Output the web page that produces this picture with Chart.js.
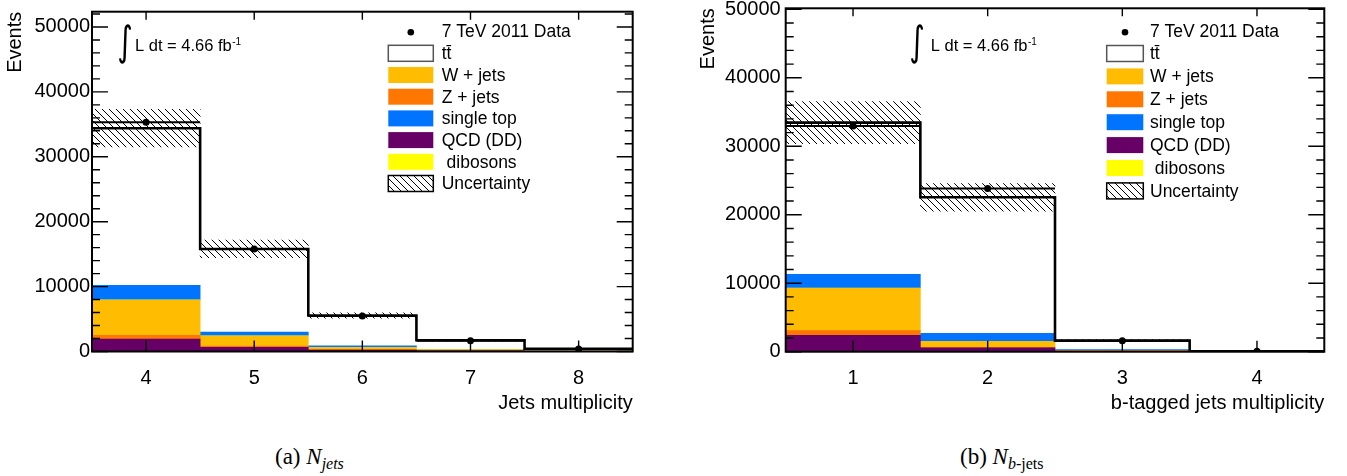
<!DOCTYPE html>
<html>
<head>
<meta charset="utf-8">
<script src="https://cdn.jsdelivr.net/npm/chart.js@4.4.0/dist/chart.umd.min.js"></script>
<style>
  html, body { margin: 0; padding: 0; background: #fff; }
  #wrap { position: relative; width: 1347px; height: 476px; overflow: hidden; }
  .panel { position: absolute; top: 0; height: 440px; }
  .caption { position: absolute; top: 444px; font-family: "Liberation Serif", "DejaVu Serif", serif; font-size: 23px; color: #000; white-space: nowrap; }
  .caption sub { font-size: 16px; vertical-align: -5px; }
</style>
</head>
<body>
<div id="wrap">
  <div class="panel" style="left:0;width:673px"><canvas id="chartJets"></canvas></div>
  <div class="panel" style="left:673px;width:674px"><canvas id="chartBJets"></canvas></div>
  <div class="caption" style="left:275px">(a) <i>N</i><sub><i>jets</i></sub></div>
  <div class="caption" style="left:960px">(b) <i>N</i><sub><i>b</i>-jets</sub></div>
</div>
<script>
// ---- data: jet multiplicity (4..8) ----
const jetBins = [4, 5, 6, 7, 8];
const jetData = [35300, 15800, 5450, 1650, 380];
const jetQcd = [1900, 650, 220, 90, 45];
const jetZjets = [600, 200, 70, 20, 5];
const jetWjets = [5400, 1530, 330, 140, 30];
const jetDiboson = [60, 20, 8, 3, 1];
const jetSingleTop = [2240, 600, 230, 30, 8];
const jetTtbar = [24200, 12800, 4690, 1440, 340];
const jetUncert = [2900, 1350, 420, 150, 40];

// ---- data: b-tagged jet multiplicity (1..4) ----
const bjetBins = [1, 2, 3, 4];
const bjetData = [32950, 23830, 1600, 50];
const bjetQcd = [2400, 560, 100, 5];
const bjetZjets = [670, 80, 20, 10];
const bjetWjets = [6180, 860, 80, 5];
const bjetDiboson = [50, 20, 5, 0];
const bjetSingleTop = [2000, 1170, 100, 3];
const bjetTtbar = [22150, 19860, 1315, 47];
const bjetUncert = [3075, 2015, 140, 10];

const yTickValues = [0, 10000, 20000, 30000, 40000, 50000];
const procLabels = ['tt\u0304', 'W + jets', 'Z + jets', 'single top', 'QCD (DD)', ' dibosons'];
const procColors = ['#ffffff', '#ffbc00', '#ff7700', '#0074ff', '#660066', '#ffff00'];
const dataLabel = '7 TeV 2011 Data';
const uncertLabel = 'Uncertainty';
const lumiText = 'L dt = 4.66 fb';

const FONT = '"Liberation Sans", Arial, Helvetica, sans-serif';

// hatch pattern for the uncertainty band
const hatch = (() => {
  const s = 7;
  const c = document.createElement('canvas');
  c.width = s; c.height = s;
  const g = c.getContext('2d');
  g.strokeStyle = '#000';
  g.lineWidth = 1;
  g.beginPath();
  g.moveTo(-1, -1); g.lineTo(s + 1, s + 1);
  g.moveTo(-1, s - 1); g.lineTo(1, s + 1);
  g.moveTo(s - 1, -1); g.lineTo(s + 1, 1);
  g.stroke();
  return g.createPattern(c, 'repeat');
})();

//frame, inner ticks, legend and lumi label, ROOT style
const rootFrame = {
  id: 'rootFrame',
  afterDatasetsDraw(chart, args, o) {
    const { ctx, chartArea: a, scales: { x, y } } = chart;
    ctx.save();
    ctx.strokeStyle = '#000';
    ctx.lineWidth = 1.4;
    ctx.beginPath();
    for (let v = 0; v <= y.max; v += 2000) {
      const py = y.getPixelForValue(v);
      const len = v % 10000 === 0 ? 16 : 8;
      ctx.moveTo(a.left, py); ctx.lineTo(a.left + len, py);
      ctx.moveTo(a.right, py); ctx.lineTo(a.right - len, py);
    }
    o.bins.forEach(b => {
      const px = x.getPixelForValue(b);
      ctx.moveTo(px, a.bottom); ctx.lineTo(px, a.bottom - 11);
      ctx.moveTo(px, a.top); ctx.lineTo(px, a.top + 8);
    });
    ctx.stroke();
    ctx.lineWidth = 2;
    ctx.strokeRect(a.left, a.top, a.right - a.left, a.bottom - a.top);

    // lumi
    ctx.fillStyle = '#000';
    ctx.save();
    ctx.translate(o.intX, o.intY);
    ctx.scale(1, 1.35);
    ctx.font = '30px "DejaVu Sans"';
    ctx.textAlign = 'center';
    ctx.textBaseline = 'alphabetic';
    ctx.fillText('\u222B', 0, 0);
    ctx.restore();
    ctx.font = '16.5px ' + FONT;
    ctx.textAlign = 'left';
    ctx.textBaseline = 'alphabetic';
    ctx.fillText(lumiText, o.lumiX, 50.7);
    const w = ctx.measureText(lumiText).width;
    ctx.font = '10px ' + FONT;
    ctx.fillText('-1', o.lumiX + w + 0.5, 45);

    // legend
    const L = o.legend;
    ctx.font = '17.5px ' + FONT;
    ctx.textBaseline = 'middle';
    ctx.beginPath();
    ctx.arc(L.boxX + L.boxW / 2, L.dataY, 3.3, 0, Math.PI * 2);
    ctx.fill();
    ctx.fillText(dataLabel, L.textX, L.dataY);
    const rows = procLabels.map((t, i) => ({ t, fill: procColors[i] })).concat([{ t: uncertLabel, fill: hatch }]);
    rows.forEach((r, i) => {
      const cy = L.y0 + i * L.step;
      ctx.fillStyle = r.fill;
      ctx.fillRect(L.boxX, cy - 8, L.boxW, 16);
      if (i === 0 || i === rows.length - 1) {
        ctx.strokeStyle = i === 0 ? '#555' : '#000';
        ctx.lineWidth = 1.5;
        ctx.strokeRect(L.boxX, cy - 8, L.boxW, 16);
      }
      ctx.fillStyle = '#000';
      ctx.fillText(r.t, L.textX, cy + 1);
    });
    ctx.restore();
  }
};

function makeChart(id, p) {
  const comps = [p.qcd, p.zjets, p.wjets, p.diboson, p.singleTop, p.ttbar];
  const compColors = [procColors[4], procColors[2], procColors[1], procColors[5], procColors[3], procColors[0]];
  const compLabels = [procLabels[4], procLabels[2], procLabels[1], procLabels[5], procLabels[3], procLabels[0]];
  const base = p.bins.map(() => 0);
  const bars = comps.map((vals, k) => ({
    type: 'bar',
    label: compLabels[k],
    data: p.bins.map((b, i) => { const lo = base[i]; base[i] += vals[i]; return { x: b, y: [lo, base[i]] }; }),
    backgroundColor: compColors[k],
    borderWidth: 0,
    grouped: false,
    barPercentage: 1,
    categoryPercentage: 1,
    order: 5
  }));
  const total = base.slice();
  const band = {
    type: 'bar',
    label: uncertLabel,
    data: p.bins.map((b, i) => ({ x: b, y: [total[i] - p.uncert[i], total[i] + p.uncert[i]] })),
    backgroundColor: hatch,
    borderWidth: 0,
    grouped: false,
    barPercentage: 1,
    categoryPercentage: 1,
    order: 3
  };
  const outline = {
    type: 'line',
    label: 'MC total',
    data: p.bins.map((b, i) => ({ x: b - 0.5, y: total[i] })).concat([{ x: p.bins[p.bins.length - 1] + 0.5, y: total[total.length - 1] }]),
    stepped: 'before',
    borderColor: '#000',
    borderWidth: 2.6,
    pointRadius: 0,
    fill: false,
    order: 2
  };
  const dataSeg = [];
  p.bins.forEach((b, i) => {
    dataSeg.push({ x: b - 0.5, y: p.data[i] }, { x: b + 0.5, y: p.data[i] }, { x: b + 0.5, y: null });
  });
  const dataLine = {
    type: 'line', label: 'data line', data: dataSeg, borderColor: '#000', borderWidth: 2,
    pointRadius: 0, fill: false, spanGaps: false, order: 1
  };
  const dataPts = {
    type: 'line', label: dataLabel, data: p.bins.map((b, i) => ({ x: b, y: p.data[i] })),
    showLine: false, pointRadius: 3.5, pointBackgroundColor: '#000', pointBorderWidth: 0, order: 0
  };

  return new Chart(document.getElementById(id), {
    type: 'bar',
    data: { datasets: bars.concat([band, outline, dataLine, dataPts]) },
    plugins: [rootFrame],
    options: {
      responsive: true,
      maintainAspectRatio: false,
      animation: false,
      layout: { padding: p.padding },
      plugins: {
        legend: { display: false },
        tooltip: { enabled: false },
        rootFrame: p.frame
      },
      scales: {
        x: {
          type: 'linear',
          min: p.bins[0] - 0.5,
          max: p.bins[p.bins.length - 1] + 0.5,
          offset: false,
          grid: { display: false, drawTicks: false },
          border: { display: false },
          afterBuildTicks: s => { s.ticks = p.bins.map(v => ({ value: v })); },
          afterFit: s => { s.height = p.xAxisH; s.paddingLeft = 0; s.paddingRight = 0; },
          ticks: { color: '#000', padding: 15, font: { family: FONT, size: 20 }, callback: v => String(v) },
          title: { display: true, text: p.xTitle, align: 'end', color: '#000', font: { family: FONT, size: 20 }, padding: { top: 0, bottom: 25 } }
        },
        y: {
          type: 'linear',
          min: 0,
          max: p.ymax,
          grid: { display: false, drawTicks: false },
          border: { display: false },
          afterBuildTicks: s => { s.ticks = yTickValues.map(v => ({ value: v })); },
          afterFit: s => { s.width = p.yAxisW; s.paddingTop = 0; s.paddingBottom = 0; },
          ticks: { color: '#000', padding: p.yTickPad, font: { family: FONT, size: 20 }, callback: v => String(v) },
          title: { display: true, text: 'Events', align: 'end', color: '#000', font: { family: FONT, size: 20 }, padding: { top: p.yTitlePad, bottom: 0 } }
        }
      }
    }
  });
}

makeChart('chartJets', {
  bins: jetBins, data: jetData, qcd: jetQcd, zjets: jetZjets, wjets: jetWjets,
  diboson: jetDiboson, singleTop: jetSingleTop, ttbar: jetTtbar, uncert: jetUncert,
  ymax: 52350, xTitle: 'Jets multiplicity',
  padding: { left: 0, right: 40.3, top: 11.7, bottom: 0 },
  yAxisW: 92, xAxisH: 88.5, yTickPad: 2, yTitlePad: 3,
  frame: {
    bins: jetBins, intX: 125, intY: 55, lumiX: 135,
    legend: { boxX: 388.3, boxW: 45, textX: 441.7, dataY: 32.3, y0: 53.3, step: 21.7 }
  }
});

makeChart('chartBJets', {
  bins: bjetBins, data: bjetData, qcd: bjetQcd, zjets: bjetZjets, wjets: bjetWjets,
  diboson: bjetDiboson, singleTop: bjetSingleTop, ttbar: bjetTtbar, uncert: bjetUncert,
  ymax: 50150, xTitle: 'b-tagged jets multiplicity',
  padding: { left: 0, right: 22.7, top: 8.3, bottom: 0 },
  yAxisW: 112.7, xAxisH: 88.3, yTickPad: 5, yTitlePad: 23,
  frame: {
    bins: bjetBins, intX: 244, intY: 55, lumiX: 257.7,
    legend: { boxX: 433.7, boxW: 36.6, textX: 477, dataY: 32.3, y0: 53.5, step: 22.9 }
  }
});
</script>
</body>
</html>
